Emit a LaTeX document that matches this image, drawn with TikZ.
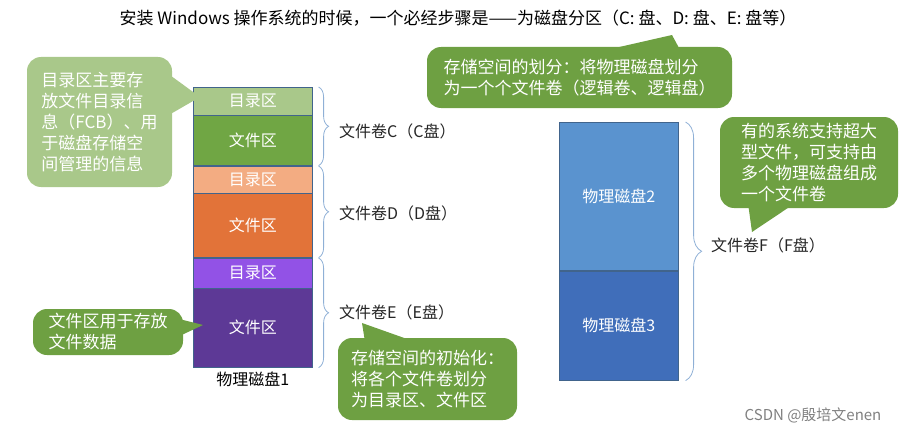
\documentclass[tikz,border=0pt]{standalone}
\usepackage{fontspec}
\setmainfont{Noto Sans CJK SC}
\usepackage{tikz}
\usetikzlibrary{positioning,calc,decorations.pathreplacing}
\definecolor{lgreen}{RGB}{169,200,138}
\definecolor{dgreen}{RGB}{110,160,66}
\definecolor{fgreen}{RGB}{112,166,68}
\definecolor{lorange}{RGB}{243,172,130}
\definecolor{dorange}{RGB}{226,115,57}
\definecolor{lpurple}{RGB}{146,82,230}
\definecolor{dpurple}{RGB}{93,57,150}
\definecolor{lblue}{RGB}{90,147,207}
\definecolor{dblue}{RGB}{64,110,186}
\definecolor{segline}{RGB}{65,100,140}
\definecolor{bracecol}{RGB}{143,176,214}

\begin{document}
\begin{tikzpicture}[x=1pt,y=1pt,
  seg/.style={rectangle,draw=segline,line width=0.6pt,anchor=north west,minimum width=119,inner sep=0pt,text=white,font=\fontsize{16}{18}\selectfont},
  vol/.style={anchor=west,inner sep=0pt,text=black!85,font=\fontsize{16}{18}\selectfont},
  bubble/.style={rectangle,rounded corners=14pt,inner sep=3pt,text=white,align=left,font=\fontsize{17}{21}\selectfont},
  brc/.style={draw=bracecol,line width=0.8pt,decorate,decoration={brace,amplitude=10pt}}]
\useasboundingbox (0,0) rectangle (910,-436);
\node[font=\fontsize{17}{20}\selectfont] (ttl) at (458,-18) {安装 Windows 操作系统的时候，一个必经步骤是——为磁盘分区（C: 盘、D: 盘、E: 盘等）};
\node[seg,fill=lgreen,minimum height=28] (c1) at (193,-87) {目录区};
\node[seg,fill=fgreen,minimum height=50] (c2) at (193,-115) {文件区};
\node[seg,fill=lorange,minimum height=27] (d1) at (193,-166) {目录区};
\node[seg,fill=dorange,minimum height=64] (d2) at (193,-193) {文件区};
\node[seg,fill=lpurple,minimum height=30] (e1) at (193,-258) {目录区};
\node[seg,fill=dpurple,minimum height=79] (e2) at (193,-288) {文件区};
\node[below=1pt of e2,font=\fontsize{16}{18}\selectfont] (m1) {物理磁盘1};
\node[seg,fill=lblue,minimum height=148] (f2) at (559,-122) {物理磁盘2};
\node[seg,fill=dblue,minimum height=109] (f3) at (559,-271) {物理磁盘3};
\foreach \u/\v in {c1/c2,d1/d2,e1/e2} \draw[brc] ($(\u.north east)+(6,0)$) -- ($(\v.south east)+(6,0)$);
\draw[brc,decoration={amplitude=16pt}] ($(f2.north east)+(7,0)$) -- ($(f3.south east)+(7,0)$);
\node[vol] (vc) at (339,-131) {文件卷C（C盘）};
\node[vol] (vd) at (339,-213) {文件卷D（D盘）};
\node[vol] (ve) at (339,-312) {文件卷E（E盘）};
\node[vol] (vf) at (711,-245) {文件卷F（F盘）};
\coordinate (p1) at (200,-97);
\coordinate (p2) at (672,-35);
\coordinate (p3) at (752,-232);
\coordinate (p4) at (203,-325);
\coordinate (p5) at (362,-323);
\node[bubble,fill=lgreen,minimum width=145,minimum height=130] (t1) at (99.5,-122) {目录区主要存\\放文件目录信\\息（FCB）、用\\于磁盘存储空\\间管理的信息};
\fill[lgreen] ($(t1.east)+(-12,54)$) -- (p1) -- ($(t1.east)+(-12,2)$) -- cycle;
\node[bubble,fill=dgreen,minimum width=305,minimum height=61] (t2) at (579.5,-77.5) {存储空间的划分：将物理磁盘划分\\为一个个文件卷（逻辑卷、逻辑盘）};
\fill[dgreen] ($(t2.north)+(27.5,-3)$) -- (p2) -- ($(t2.north)+(100.5,-3)$) -- cycle;
\node[bubble,fill=dgreen,minimum width=178,minimum height=91] (t3) at (809,-162.5) {有的系统支持超大\\型文件，可支持由\\多个物理磁盘组成\\一个文件卷};
\fill[dgreen] ($(t3.south)+(-61,5)$) -- (p3) -- ($(t3.south)+(-14,5)$) -- cycle;
\node[bubble,fill=dgreen,minimum width=150,minimum height=46] (t4) at (108,-332) {文件区用于存放\\文件数据};
\fill[dgreen] ($(t4.east)+(-8,14)$) -- (p4) -- ($(t4.east)+(-8,-6)$) -- cycle;
\node[bubble,fill=dgreen,minimum width=179,minimum height=82] (t5) at (427.5,-379) {存储空间的初始化：\\将各个文件卷划分\\为目录区、文件区};
\fill[dgreen] ($(t5.north)+(-62.5,-4)$) -- (p5) -- ($(t5.north)+(-12.5,-4)$) -- cycle;
\node[text=black!50,font=\fontsize{15}{18}\selectfont] (wm) at (813,-415) {CSDN @殷培文enen};
\end{tikzpicture}
\end{document}
